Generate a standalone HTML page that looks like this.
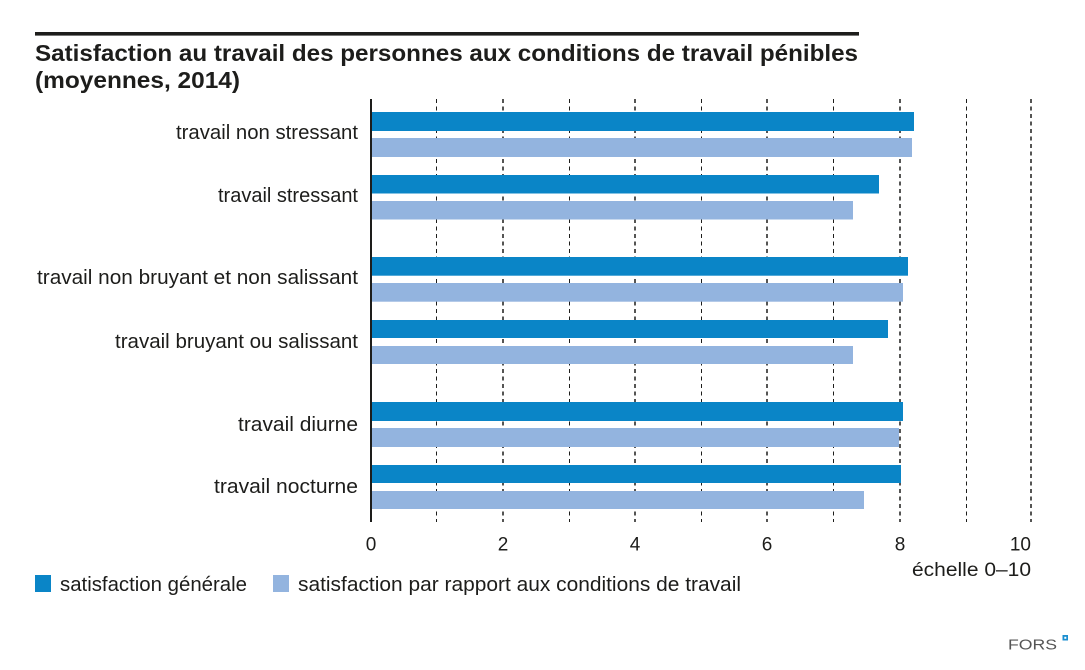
<!DOCTYPE html>
<html>
<head>
<meta charset="utf-8">
<style>
html,body{margin:0;padding:0;background:#fff;}
svg{display:block;}
text{font-family:"Liberation Sans",sans-serif;fill:#1d1d1b;}
</style>
</head>
<body>
<svg width="1085" height="670" viewBox="0 0 1085 670" xmlns="http://www.w3.org/2000/svg">
<rect x="0" y="0" width="1085" height="670" fill="#fff"/>
<!-- top rule -->
<rect x="35" y="32" width="824" height="3.6" fill="#1d1d1b"/>
<!-- title -->
<text x="35" y="61" font-size="23.5" font-weight="bold" textLength="823" lengthAdjust="spacingAndGlyphs">Satisfaction au travail des personnes aux conditions de travail pénibles</text>
<text x="35" y="88" font-size="23.5" font-weight="bold" textLength="205" lengthAdjust="spacingAndGlyphs">(moyennes, 2014)</text>

<!-- grid lines -->
<g stroke="#1d1d1b" stroke-dasharray="4,3.5">
<line x1="436.5" y1="99" x2="436.5" y2="522" stroke-width="1" shape-rendering="crispEdges"/>
<line x1="503" y1="99" x2="503" y2="522" stroke-width="1.5"/>
<line x1="569.5" y1="99" x2="569.5" y2="522" stroke-width="1" shape-rendering="crispEdges"/>
<line x1="635" y1="99" x2="635" y2="522" stroke-width="1.5"/>
<line x1="701.5" y1="99" x2="701.5" y2="522" stroke-width="1" shape-rendering="crispEdges"/>
<line x1="767" y1="99" x2="767" y2="522" stroke-width="1.5"/>
<line x1="833.5" y1="99" x2="833.5" y2="522" stroke-width="1" shape-rendering="crispEdges"/>
<line x1="900" y1="99" x2="900" y2="522" stroke-width="1.5"/>
<line x1="966.5" y1="99" x2="966.5" y2="522" stroke-width="1" shape-rendering="crispEdges"/>
<line x1="1031" y1="99" x2="1031" y2="522" stroke-width="1.5"/>
</g>

<!-- bars -->
<g>
<rect x="372" y="112" width="542" height="19" fill="#0a85c7"/>
<rect x="372" y="138" width="540" height="19" fill="#93b4df"/>
<rect x="372" y="175" width="507" height="18.5" fill="#0a85c7"/>
<rect x="372" y="201" width="481" height="18.5" fill="#93b4df"/>

<rect x="372" y="257" width="536" height="18.7" fill="#0a85c7"/>
<rect x="372" y="283" width="531" height="18.7" fill="#93b4df"/>
<rect x="372" y="320" width="516" height="18" fill="#0a85c7"/>
<rect x="372" y="346" width="481" height="18" fill="#93b4df"/>

<rect x="372" y="402" width="531" height="19" fill="#0a85c7"/>
<rect x="372" y="428" width="527" height="19" fill="#93b4df"/>
<rect x="372" y="465" width="529" height="18" fill="#0a85c7"/>
<rect x="372" y="491" width="492" height="18" fill="#93b4df"/>
</g>

<!-- axis -->
<rect x="370" y="99" width="2" height="423" fill="#1d1d1b"/>

<!-- category labels -->
<g font-size="20" text-anchor="end">
<text x="358" y="139" textLength="182" lengthAdjust="spacingAndGlyphs">travail non stressant</text>
<text x="358" y="202" textLength="140" lengthAdjust="spacingAndGlyphs">travail stressant</text>
<text x="358" y="284" textLength="321" lengthAdjust="spacingAndGlyphs">travail non bruyant et non salissant</text>
<text x="358" y="348" textLength="243" lengthAdjust="spacingAndGlyphs">travail bruyant ou salissant</text>
<text x="358" y="431" textLength="120" lengthAdjust="spacingAndGlyphs">travail diurne</text>
<text x="358" y="493" textLength="144" lengthAdjust="spacingAndGlyphs">travail nocturne</text>
</g>

<!-- tick labels -->
<g font-size="19" text-anchor="middle">
<text x="371" y="550.5">0</text>
<text x="503" y="550.5">2</text>
<text x="635" y="550.5">4</text>
<text x="767" y="550.5">6</text>
<text x="900" y="550.5">8</text>
<text x="1031" y="550.5" text-anchor="end">10</text>
</g>
<text x="1031" y="576" font-size="19" text-anchor="end" textLength="119" lengthAdjust="spacingAndGlyphs">échelle 0–10</text>

<!-- legend -->
<rect x="35" y="575" width="16" height="17" fill="#0a85c7"/>
<text x="60" y="591" font-size="20" textLength="187" lengthAdjust="spacingAndGlyphs">satisfaction générale</text>
<rect x="273" y="575" width="16" height="17" fill="#93b4df"/>
<text x="298" y="591" font-size="20" textLength="443" lengthAdjust="spacingAndGlyphs">satisfaction par rapport aux conditions de travail</text>

<!-- FORS logo -->
<text x="1008" y="649.5" font-size="15" style="fill:#555" textLength="49" lengthAdjust="spacingAndGlyphs">FORS</text>
<rect x="1062.5" y="635" width="5.5" height="5.5" fill="#1b8fd0"/>
<rect x="1064.3" y="636.8" width="2" height="2" fill="#fff"/>
</svg>
</body>
</html>
